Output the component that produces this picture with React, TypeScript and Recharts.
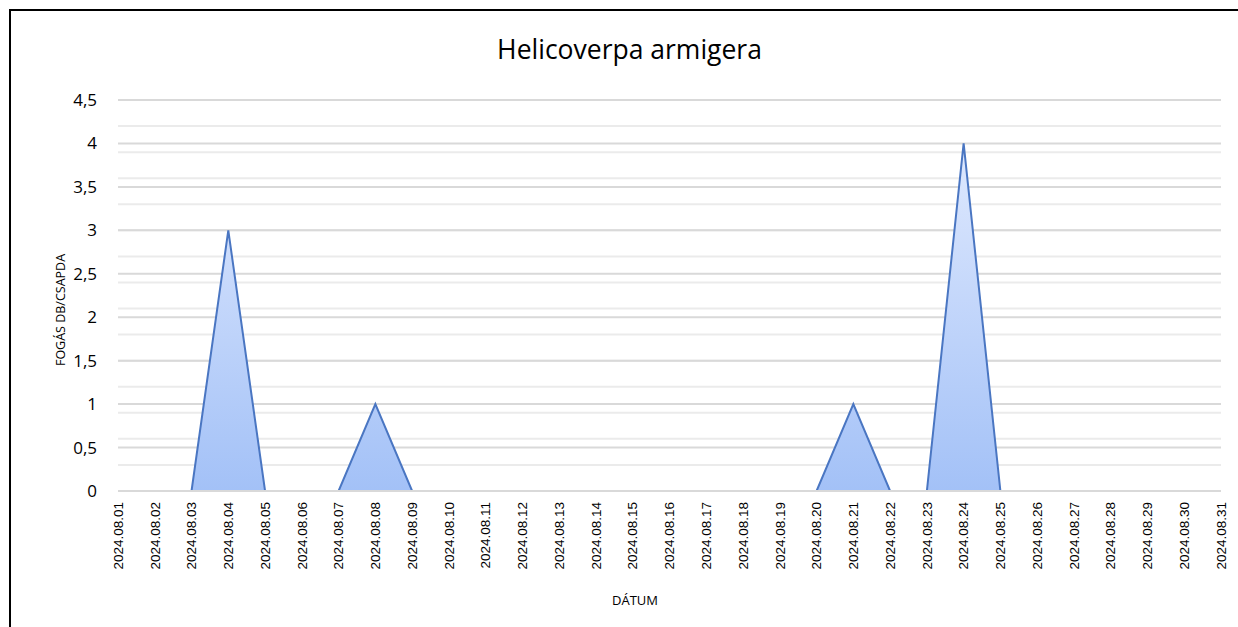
import { AreaChart, Area, XAxis, YAxis, CartesianGrid } from 'recharts';

// napi fogás, 2024 augusztus
const days = [
  '2024.08.01', '2024.08.02', '2024.08.03', '2024.08.04', '2024.08.05', '2024.08.06',
  '2024.08.07', '2024.08.08', '2024.08.09', '2024.08.10', '2024.08.11', '2024.08.12',
  '2024.08.13', '2024.08.14', '2024.08.15', '2024.08.16', '2024.08.17', '2024.08.18',
  '2024.08.19', '2024.08.20', '2024.08.21', '2024.08.22', '2024.08.23', '2024.08.24',
  '2024.08.25', '2024.08.26', '2024.08.27', '2024.08.28', '2024.08.29', '2024.08.30',
  '2024.08.31',
];
const catches = [
  0, 0, 0, 3, 0, 0, 0, 1, 0, 0, 0, 0, 0, 0, 0, 0, 0, 0, 0, 0, 1, 0, 0, 4, 0, 0, 0, 0, 0, 0, 0,
];
const majorTicks = [0, 0.5, 1, 1.5, 2, 2.5, 3, 3.5, 4, 4.5];

const data = days.map((d, i) => ({ day: d, value: catches[i] }));

// minor gridlines every 0.1
const minorTicks: number[] = [];
for (let i = 0; i <= 45; i++) minorTicks.push(i / 10);

const DateTick = ({ x, y, payload }: any) => (
  <text
    transform={`translate(${x},${y + 3}) rotate(-90)`}
    textAnchor="end"
    dy="0.35em"
    fontFamily="'Liberation Sans', Arial, sans-serif"
    fontSize={13.5}
    fill="#000"
  >
    {payload.value}
  </text>
);

export default function App() {
  return (
    <div style={{ position: 'absolute', left: 0, top: 0, width: 1238, height: 627, overflow: 'hidden', background: '#fff' }}>
      <div
        style={{
          position: 'absolute',
          left: 9,
          top: 9,
          width: 1250,
          height: 640,
          border: '2px solid #000',
        }}
      />
      <div
        style={{
          position: 'absolute',
          left: 0,
          width: 1238,
          paddingLeft: 21,
          boxSizing: 'border-box',
          top: 31,
          textAlign: 'center',
          fontFamily: "'Open Sans', sans-serif",
          fontSize: 26.5,
          color: '#000',
        }}
      >
        Helicoverpa armigera
      </div>
      <div
        style={{
          position: 'absolute',
          left: 60,
          top: 310,
          transform: 'translate(-50%, -50%) rotate(-90deg)',
          whiteSpace: 'nowrap',
          fontFamily: "'Open Sans', sans-serif",
          fontSize: 12.5,
          color: '#000',
        }}
      >
        FOGÁS DB/CSAPDA
      </div>
      <div
        style={{
          position: 'absolute',
          left: 0,
          width: 1238,
          paddingLeft: 32,
          boxSizing: 'border-box',
          top: 591,
          textAlign: 'center',
          fontFamily: "'Open Sans', sans-serif",
          fontSize: 13,
          color: '#000',
        }}
      >
        DÁTUM
      </div>
      <div style={{ position: 'absolute', left: 0, top: 0 }}>
        <AreaChart width={1238} height={627} data={data} margin={{ top: 100, right: 17, bottom: 0, left: 0 }}>
          <defs>
            <linearGradient id="areaFill" x1="0" y1="0" x2="0" y2="1">
              <stop offset="0%" stopColor="#dfe9fe" />
              <stop offset="100%" stopColor="#a3c1f7" />
            </linearGradient>
          </defs>
          <CartesianGrid vertical={false} horizontalValues={minorTicks} stroke="#ebebeb" strokeWidth={2} />
          <CartesianGrid vertical={false} horizontalValues={majorTicks} stroke="#d9d9d9" strokeWidth={2} />
          <XAxis
            dataKey="day"
            interval={0}
            height={136}
            tickLine={false}
            axisLine={{ stroke: '#d9d9d9', strokeWidth: 2 }}
            tick={<DateTick />}
          />
          <YAxis
            width={118}
            domain={[0, 4.5]}
            ticks={majorTicks}
            tickLine={false}
            axisLine={false}
            tickSize={0}
            tickMargin={21}
            tickFormatter={(v: number) => String(v).replace('.', ',')}
            tick={{ fontFamily: "'Open Sans', sans-serif", fontSize: 17, fill: '#000' }}
          />
          <Area
            type="linear"
            dataKey="value"
            stroke="#4a76c2"
            strokeWidth={2}
            fill="url(#areaFill)"
            fillOpacity={1}
            dot={false}
            activeDot={false}
            isAnimationActive={false}
          />
        </AreaChart>
      </div>
    </div>
  );
}
